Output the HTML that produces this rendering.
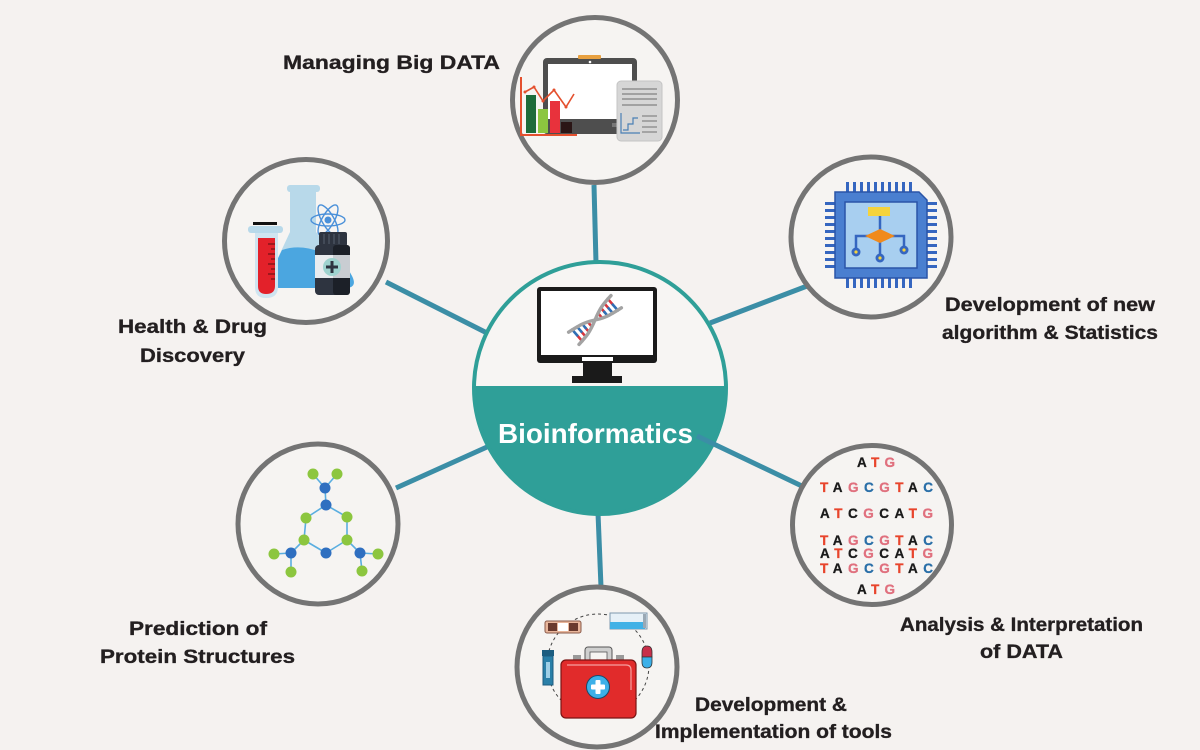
<!DOCTYPE html>
<html>
<head>
<meta charset="utf-8">
<style>
  html,body{margin:0;padding:0;background:#f5f2f0;}
  svg{display:block;}
  .lbl{font-family:"Liberation Sans",Arial,sans-serif;font-weight:bold;font-size:19.5px;fill:#231f20;stroke:#231f20;stroke-width:0.35px;}
  .dna{font-family:"Liberation Sans",Arial,sans-serif;font-weight:bold;font-size:13.5px;stroke-width:0.3px;}
</style>
</head>
<body>
<svg width="1200" height="750" viewBox="0 0 1200 750" xmlns="http://www.w3.org/2000/svg">
  <defs>
    <clipPath id="cc"><circle cx="600" cy="388" r="127"/></clipPath>
  </defs>
  <rect width="1200" height="750" fill="#f5f2f0"/>

  <!-- connectors -->
  <g stroke="#3b8ea6" stroke-width="5" stroke-linecap="butt">
    <line x1="594" y1="185" x2="596" y2="263"/>
    <line x1="598" y1="513" x2="601" y2="587"/>
    <line x1="386" y1="282" x2="487" y2="333"/>
    <line x1="710" y1="323" x2="815" y2="283"/>
    <line x1="396" y1="488" x2="487" y2="447"/>
  </g>

  <!-- center circle -->
  <circle cx="600" cy="388" r="127" fill="#f7f5f3"/>
  <rect x="470" y="386" width="260" height="140" fill="#2f9f98" clip-path="url(#cc)"/>
  <circle cx="600" cy="388" r="126" fill="none" stroke="#2f9f98" stroke-width="4"/>
  <line x1="697" y1="436" x2="806" y2="488" stroke="#3b8ea6" stroke-width="5"/>

  <!-- center monitor -->
  <rect x="537" y="287" width="120" height="76" rx="3" fill="#1a1a1a"/>
  <rect x="541" y="291" width="112" height="64" fill="#ffffff"/>
  <rect x="582" y="357" width="31" height="4" fill="#ffffff"/>
  <rect x="583" y="363" width="29" height="13" fill="#1a1a1a"/>
  <rect x="572" y="376" width="50" height="7" fill="#1a1a1a"/>
  <!-- DNA -->
  <g stroke-width="2.6" stroke-linecap="round">
    <line x1="582.3" y1="341.3" x2="577.2" y2="335.4" stroke="#d8343c"/>
    <line x1="577.2" y1="335.4" x2="572.1" y2="329.5" stroke="#2f6fb5"/>
    <line x1="585.8" y1="336.8" x2="581.4" y2="331.7" stroke="#d8343c"/>
    <line x1="581.4" y1="331.7" x2="577" y2="326.6" stroke="#2f6fb5"/>
    <line x1="589" y1="332" x2="585.7" y2="328.1" stroke="#d8343c"/>
    <line x1="585.7" y1="328.1" x2="582.4" y2="324.2" stroke="#2f6fb5"/>
    <line x1="591.8" y1="326.6" x2="588" y2="322.2" stroke="#d8343c"/>
    <line x1="598.2" y1="313.4" x2="602" y2="317.8" stroke="#d8343c"/>
    <line x1="601" y1="308" x2="604.3" y2="311.9" stroke="#d8343c"/>
    <line x1="604.3" y1="311.9" x2="607.6" y2="315.8" stroke="#2f6fb5"/>
    <line x1="604.2" y1="303.2" x2="608.6" y2="308.3" stroke="#d8343c"/>
    <line x1="608.6" y1="308.3" x2="613" y2="313.4" stroke="#2f6fb5"/>
    <line x1="607.7" y1="298.7" x2="612.8" y2="304.6" stroke="#d8343c"/>
    <line x1="612.8" y1="304.6" x2="617.9" y2="310.5" stroke="#2f6fb5"/>
  </g>
  <g fill="none" stroke="#a3a3a3" stroke-width="3.4" stroke-linecap="round">
    <path d="M579,344.4 Q585,338 588.1,333.5 T595,320 T601.9,306.5 T611,295.6"/>
    <path d="M568.6,332.2 Q575,328 580.7,324.9 T595,320 T609.3,315.1 T621.4,307.8"/>
  </g>

  <text x="498" y="443" textLength="195" lengthAdjust="spacingAndGlyphs" font-family="Liberation Sans, Arial, sans-serif" font-weight="bold" font-size="27.5" fill="#ffffff">Bioinformatics</text>

  <!-- outer circles -->
  <g fill="#f6f4f2" stroke="#747474" stroke-width="5">
    <circle cx="595" cy="100" r="82.5"/>
    <circle cx="871" cy="237" r="80"/>
    <circle cx="306" cy="241" r="81.5"/>
    <circle cx="318" cy="524" r="80"/>
    <circle cx="597" cy="667" r="80"/>
    <circle cx="872" cy="525" r="79.5"/>
  </g>

  <!-- TOP: Managing big data -->
  <rect x="543" y="58" width="94" height="76" rx="4" fill="#4e4e4e"/>
  <rect x="548" y="64" width="84" height="55" fill="#ffffff"/>
  <rect x="578" y="55" width="23" height="4" rx="1" fill="#e8a040"/>
  <circle cx="590" cy="62" r="1.3" fill="#ffffff"/>
  <rect x="612" y="123" width="20" height="4" fill="#777"/>
  <!-- chart -->
  <rect x="526" y="95" width="10" height="38" fill="#1d6b3a"/>
  <rect x="538" y="109" width="10" height="24" fill="#8cc63f"/>
  <rect x="550" y="101" width="10" height="32" fill="#e8323c"/>
  <rect x="561" y="122" width="11" height="11" fill="#2a1515"/>
  <line x1="521" y1="77" x2="521" y2="136" stroke="#e4502e" stroke-width="2"/>
  <line x1="520" y1="135" x2="577" y2="135" stroke="#e4502e" stroke-width="2"/>
  <polyline points="525,92 534,87 543,101 554,90 566,107 574,94" fill="none" stroke="#e4502e" stroke-width="1.6"/>
  <g fill="#e4502e"><circle cx="525" cy="92" r="1.5"/><circle cx="534" cy="87" r="1.5"/><circle cx="543" cy="101" r="1.5"/><circle cx="554" cy="90" r="1.5"/><circle cx="566" cy="107" r="1.5"/></g>
  <!-- document -->
  <rect x="617" y="81" width="45" height="60" rx="4" fill="#d6d6d6" stroke="#c4c4c4" stroke-width="1"/>
  <g stroke="#8f8f8f" stroke-width="1.4">
    <line x1="622" y1="89" x2="657" y2="89"/>
    <line x1="622" y1="94" x2="657" y2="94"/>
    <line x1="622" y1="99" x2="657" y2="99"/>
    <line x1="622" y1="105" x2="657" y2="105"/>
    <line x1="642" y1="116" x2="657" y2="116"/>
    <line x1="642" y1="121" x2="657" y2="121"/>
    <line x1="642" y1="127" x2="657" y2="127"/>
    <line x1="642" y1="132" x2="657" y2="132"/>
  </g>
  <polyline points="621,113 621,133 640,133" fill="none" stroke="#4a7fb5" stroke-width="1.2"/>
  <polyline points="623,130 628,130 628,124 633,124 633,118 638,118" fill="none" stroke="#4a7fb5" stroke-width="1.2"/>

  <!-- RIGHT TOP: chip -->
  <g fill="#3566c0">
    <rect x="846" y="182" width="3" height="10"/><rect x="853" y="182" width="3" height="10"/><rect x="860" y="182" width="3" height="10"/><rect x="867" y="182" width="3" height="10"/><rect x="874" y="182" width="3" height="10"/><rect x="881" y="182" width="3" height="10"/><rect x="888" y="182" width="3" height="10"/><rect x="895" y="182" width="3" height="10"/><rect x="902" y="182" width="3" height="10"/><rect x="909" y="182" width="3" height="10"/>
    <rect x="846" y="278" width="3" height="10"/><rect x="853" y="278" width="3" height="10"/><rect x="860" y="278" width="3" height="10"/><rect x="867" y="278" width="3" height="10"/><rect x="874" y="278" width="3" height="10"/><rect x="881" y="278" width="3" height="10"/><rect x="888" y="278" width="3" height="10"/><rect x="895" y="278" width="3" height="10"/><rect x="902" y="278" width="3" height="10"/><rect x="909" y="278" width="3" height="10"/>
    <rect x="825" y="202" width="10" height="3"/><rect x="825" y="209" width="10" height="3"/><rect x="825" y="216" width="10" height="3"/><rect x="825" y="223" width="10" height="3"/><rect x="825" y="230" width="10" height="3"/><rect x="825" y="237" width="10" height="3"/><rect x="825" y="244" width="10" height="3"/><rect x="825" y="251" width="10" height="3"/><rect x="825" y="258" width="10" height="3"/><rect x="825" y="265" width="10" height="3"/>
    <rect x="927" y="202" width="10" height="3"/><rect x="927" y="209" width="10" height="3"/><rect x="927" y="216" width="10" height="3"/><rect x="927" y="223" width="10" height="3"/><rect x="927" y="230" width="10" height="3"/><rect x="927" y="237" width="10" height="3"/><rect x="927" y="244" width="10" height="3"/><rect x="927" y="251" width="10" height="3"/><rect x="927" y="258" width="10" height="3"/><rect x="927" y="265" width="10" height="3"/>
  </g>
  <polygon points="835,192 919,192 927,200 927,278 835,278" fill="#4a7fd0" stroke="#2a55a8" stroke-width="1.5"/>
  <rect x="845" y="202" width="72" height="66" fill="#a8cff0" stroke="#2a55a8" stroke-width="1.5"/>
  <g stroke="#3566c0" stroke-width="2.5" fill="none">
    <line x1="880" y1="215" x2="880" y2="258"/>
    <polyline points="856,252 856,236 904,236 904,250"/>
  </g>
  <rect x="868" y="207" width="22" height="9" fill="#f5d33d"/>
  <polygon points="865,236 880,229 895,236 880,243" fill="#f08a1c"/>
  <g fill="#3566c0"><circle cx="856" cy="252" r="4.5"/><circle cx="880" cy="258" r="4.5"/><circle cx="904" cy="250" r="4.5"/></g>
  <g fill="#f5d33d"><circle cx="856" cy="252" r="1.6"/><circle cx="880" cy="258" r="1.6"/><circle cx="904" cy="250" r="1.6"/></g>

  <!-- LEFT TOP: health & drug -->
  <path d="M290,232 L270,275 Q266,288 280,288 L345,288 Q358,288 352,276 L316,232 Z" fill="#b8d9ea"/>
  <rect x="290" y="190" width="26" height="44" fill="#b8d9ea"/>
  <rect x="287" y="185" width="33" height="7" rx="3" fill="#b8d9ea"/>
  <path d="M282,250 Q300,244 320,252 Q335,256 340,254 L352,276 Q358,288 345,288 L280,288 Q266,288 270,275 Z" fill="#4ba6e0"/>
  <!-- test tube -->
  <rect x="253" y="222" width="24" height="3" fill="#111"/>
  <path d="M255,232 L255,287 Q255,298 266,298 Q278,298 278,287 L278,232 Z" fill="#cfe4f0"/>
  <path d="M258,238 L258,286 Q258,294 266,294 Q275,294 275,286 L275,238 Z" fill="#e3212a"/>
  <rect x="248" y="226" width="35" height="7" rx="3" fill="#b8d9ea"/>
  <g stroke="#5a1010" stroke-width="1">
    <line x1="268" y1="244" x2="275" y2="244"/><line x1="271" y1="249" x2="275" y2="249"/><line x1="268" y1="254" x2="275" y2="254"/><line x1="271" y1="259" x2="275" y2="259"/><line x1="268" y1="264" x2="275" y2="264"/><line x1="271" y1="269" x2="275" y2="269"/><line x1="268" y1="274" x2="275" y2="274"/><line x1="271" y1="279" x2="275" y2="279"/>
  </g>
  <!-- atom -->
  <g fill="none" stroke="#4a90d9" stroke-width="1.4">
    <ellipse cx="328" cy="220" rx="17" ry="6"/>
    <ellipse cx="328" cy="220" rx="17" ry="6" transform="rotate(60 328 220)"/>
    <ellipse cx="328" cy="220" rx="17" ry="6" transform="rotate(-60 328 220)"/>
  </g>
  <circle cx="328" cy="220" r="3.5" fill="#4a90d9"/>
  <!-- bottle -->
  <rect x="319" y="232" width="28" height="14" rx="2" fill="#2e3440"/>
  <g stroke="#55606e" stroke-width="1"><line x1="324" y1="234" x2="324" y2="244"/><line x1="329" y1="234" x2="329" y2="244"/><line x1="334" y1="234" x2="334" y2="244"/><line x1="339" y1="234" x2="339" y2="244"/></g>
  <rect x="315" y="245" width="35" height="50" rx="4" fill="#2e3440"/>
  <rect x="333" y="245" width="17" height="50" rx="3" fill="#1c2028"/>
  <rect x="315" y="255" width="35" height="23" fill="#e9ecef"/>
  <rect x="333" y="255" width="17" height="23" fill="#c9cdd2"/>
  <circle cx="332" cy="267" r="9" fill="#9fd3cf"/>
  <rect x="330.5" y="261" width="3" height="12" fill="#2e3440"/>
  <rect x="326" y="265.5" width="12" height="3" fill="#2e3440"/>

  <!-- BOTTOM LEFT: molecule -->
  <g stroke="#5aaee0" stroke-width="1.6">
    <line x1="313" y1="474" x2="325" y2="488"/><line x1="337" y1="474" x2="325" y2="488"/>
    <line x1="325" y1="488" x2="326" y2="505"/>
    <line x1="326" y1="505" x2="306" y2="518"/><line x1="326" y1="505" x2="347" y2="517"/>
    <line x1="306" y1="518" x2="304" y2="540"/><line x1="347" y1="517" x2="347" y2="540"/>
    <line x1="304" y1="540" x2="326" y2="553"/><line x1="347" y1="540" x2="326" y2="553"/>
    <line x1="304" y1="540" x2="291" y2="553"/><line x1="291" y1="553" x2="274" y2="554"/><line x1="291" y1="553" x2="291" y2="572"/>
    <line x1="347" y1="540" x2="360" y2="553"/><line x1="360" y1="553" x2="378" y2="554"/><line x1="360" y1="553" x2="362" y2="571"/>
  </g>
  <g fill="#8cc63f">
    <circle cx="313" cy="474" r="5.5"/><circle cx="337" cy="474" r="5.5"/>
    <circle cx="306" cy="518" r="5.5"/><circle cx="347" cy="517" r="5.5"/>
    <circle cx="304" cy="540" r="5.5"/><circle cx="347" cy="540" r="5.5"/>
    <circle cx="274" cy="554" r="5.5"/><circle cx="291" cy="572" r="5.5"/>
    <circle cx="378" cy="554" r="5.5"/><circle cx="362" cy="571" r="5.5"/>
  </g>
  <g fill="#2f6fc0">
    <circle cx="325" cy="488" r="5.5"/><circle cx="326" cy="505" r="5.5"/>
    <circle cx="326" cy="553" r="5.5"/><circle cx="291" cy="553" r="5.5"/><circle cx="360" cy="553" r="5.5"/>
  </g>

  <!-- BOTTOM CENTER: tools -->
  <circle cx="598" cy="665" r="51" fill="none" stroke="#444" stroke-width="1" stroke-dasharray="3,3"/>
  <rect x="545" y="621" width="36" height="12" rx="2" fill="#e8b59a" stroke="#8a5a4a" stroke-width="1"/>
  <rect x="548" y="623" width="9" height="8" fill="#6a3a2e"/>
  <rect x="558" y="623" width="10" height="8" fill="#ffffff"/>
  <rect x="569" y="623" width="9" height="8" fill="#6a3a2e"/>
  <rect x="610" y="613" width="37" height="16" fill="#e6f0f7" stroke="#7f98ad" stroke-width="1"/>
  <rect x="610" y="622" width="35" height="7" fill="#41b1e6"/>
  <rect x="643" y="614" width="3" height="14" fill="#9aa8b4"/>
  <rect x="542" y="650" width="12" height="6" fill="#1d5d80"/>
  <rect x="543" y="656" width="10" height="29" fill="#2a7fa8" stroke="#1d5d80" stroke-width="1"/>
  <rect x="546" y="662" width="4" height="16" fill="#9fcfe6"/>
  <path d="M642,657 L642,652 Q642,646 647,646 Q652,646 652,652 L652,657 Z" fill="#c8304a" stroke="#333" stroke-width="0.8"/>
  <path d="M642,657 L642,662 Q642,668 647,668 Q652,668 652,662 L652,657 Z" fill="#3cb0e8" stroke="#333" stroke-width="0.8"/>
  <rect x="585" y="647" width="27" height="15" rx="3" fill="#cfcfcf" stroke="#555" stroke-width="1"/>
  <rect x="590" y="652" width="17" height="10" fill="#f6f4f2" stroke="#555" stroke-width="0.8"/>
  <rect x="573" y="655" width="8" height="6" fill="#9a9a9a"/>
  <rect x="616" y="655" width="8" height="6" fill="#9a9a9a"/>
  <rect x="561" y="660" width="75" height="58" rx="5" fill="#e12b2b" stroke="#7a1414" stroke-width="1.2"/>
  <path d="M567,665 L626,665 Q631,665 631,670 L631,690" fill="none" stroke="#f6a0a0" stroke-width="1.2"/>
  <circle cx="598" cy="687" r="11.5" fill="#3db0e8" stroke="#1a4a6a" stroke-width="1"/>
  <rect x="595.5" y="680" width="5" height="14" rx="1" fill="#ffffff"/>
  <rect x="591" y="684.5" width="14" height="5" rx="1" fill="#ffffff"/>

  <!-- BOTTOM RIGHT: DNA letters -->
  <g class="dna">
    <text x="857" y="467" textLength="38" lengthAdjust="spacing"><tspan fill="#1a1a1a" stroke="#1a1a1a">A</tspan><tspan fill="#e8452c" stroke="#e8452c">T</tspan><tspan fill="#e0707e" stroke="#e0707e">G</tspan></text>
    <text x="820" y="492" textLength="113" lengthAdjust="spacing"><tspan fill="#e8452c" stroke="#e8452c">T</tspan><tspan fill="#1a1a1a" stroke="#1a1a1a">A</tspan><tspan fill="#e0707e" stroke="#e0707e">G</tspan><tspan fill="#2a6fa8" stroke="#2a6fa8">C</tspan><tspan fill="#e0707e" stroke="#e0707e">G</tspan><tspan fill="#e8452c" stroke="#e8452c">T</tspan><tspan fill="#1a1a1a" stroke="#1a1a1a">A</tspan><tspan fill="#2a6fa8" stroke="#2a6fa8">C</tspan></text>
    <text x="820" y="518" textLength="113" lengthAdjust="spacing"><tspan fill="#1a1a1a" stroke="#1a1a1a">A</tspan><tspan fill="#e8452c" stroke="#e8452c">T</tspan><tspan fill="#1a1a1a" stroke="#1a1a1a">C</tspan><tspan fill="#e0707e" stroke="#e0707e">G</tspan><tspan fill="#1a1a1a" stroke="#1a1a1a">C</tspan><tspan fill="#1a1a1a" stroke="#1a1a1a">A</tspan><tspan fill="#e8452c" stroke="#e8452c">T</tspan><tspan fill="#e0707e" stroke="#e0707e">G</tspan></text>
    <text x="820" y="545" textLength="113" lengthAdjust="spacing"><tspan fill="#e8452c" stroke="#e8452c">T</tspan><tspan fill="#1a1a1a" stroke="#1a1a1a">A</tspan><tspan fill="#e0707e" stroke="#e0707e">G</tspan><tspan fill="#2a6fa8" stroke="#2a6fa8">C</tspan><tspan fill="#e0707e" stroke="#e0707e">G</tspan><tspan fill="#e8452c" stroke="#e8452c">T</tspan><tspan fill="#1a1a1a" stroke="#1a1a1a">A</tspan><tspan fill="#2a6fa8" stroke="#2a6fa8">C</tspan></text>
    <text x="820" y="558" textLength="113" lengthAdjust="spacing"><tspan fill="#1a1a1a" stroke="#1a1a1a">A</tspan><tspan fill="#e8452c" stroke="#e8452c">T</tspan><tspan fill="#1a1a1a" stroke="#1a1a1a">C</tspan><tspan fill="#e0707e" stroke="#e0707e">G</tspan><tspan fill="#1a1a1a" stroke="#1a1a1a">C</tspan><tspan fill="#1a1a1a" stroke="#1a1a1a">A</tspan><tspan fill="#e8452c" stroke="#e8452c">T</tspan><tspan fill="#e0707e" stroke="#e0707e">G</tspan></text>
    <text x="820" y="573" textLength="113" lengthAdjust="spacing"><tspan fill="#e8452c" stroke="#e8452c">T</tspan><tspan fill="#1a1a1a" stroke="#1a1a1a">A</tspan><tspan fill="#e0707e" stroke="#e0707e">G</tspan><tspan fill="#2a6fa8" stroke="#2a6fa8">C</tspan><tspan fill="#e0707e" stroke="#e0707e">G</tspan><tspan fill="#e8452c" stroke="#e8452c">T</tspan><tspan fill="#1a1a1a" stroke="#1a1a1a">A</tspan><tspan fill="#2a6fa8" stroke="#2a6fa8">C</tspan></text>
    <text x="857" y="594" textLength="38" lengthAdjust="spacing"><tspan fill="#1a1a1a" stroke="#1a1a1a">A</tspan><tspan fill="#e8452c" stroke="#e8452c">T</tspan><tspan fill="#e0707e" stroke="#e0707e">G</tspan></text>
  </g>

  <!-- labels -->
  <text class="lbl" x="283" y="69" textLength="217" lengthAdjust="spacingAndGlyphs">Managing Big DATA</text>
  <text class="lbl" x="118" y="333" textLength="149" lengthAdjust="spacingAndGlyphs">Health &amp; Drug</text>
  <text class="lbl" x="140" y="362" textLength="105" lengthAdjust="spacingAndGlyphs">Discovery</text>
  <text class="lbl" x="945" y="311" textLength="210" lengthAdjust="spacingAndGlyphs">Development of new</text>
  <text class="lbl" x="942" y="339" textLength="216" lengthAdjust="spacingAndGlyphs">algorithm &amp; Statistics</text>
  <text class="lbl" x="129" y="635" textLength="138" lengthAdjust="spacingAndGlyphs">Prediction of</text>
  <text class="lbl" x="100" y="663" textLength="195" lengthAdjust="spacingAndGlyphs">Protein Structures</text>
  <text class="lbl" x="900" y="631" textLength="243" lengthAdjust="spacingAndGlyphs">Analysis &amp; Interpretation</text>
  <text class="lbl" x="980" y="658" textLength="83" lengthAdjust="spacingAndGlyphs">of DATA</text>
  <text class="lbl" x="695" y="711" textLength="152" lengthAdjust="spacingAndGlyphs">Development &amp;</text>
  <text class="lbl" x="655" y="738" textLength="237" lengthAdjust="spacingAndGlyphs">Implementation of tools</text>
</svg>
</body>
</html>
